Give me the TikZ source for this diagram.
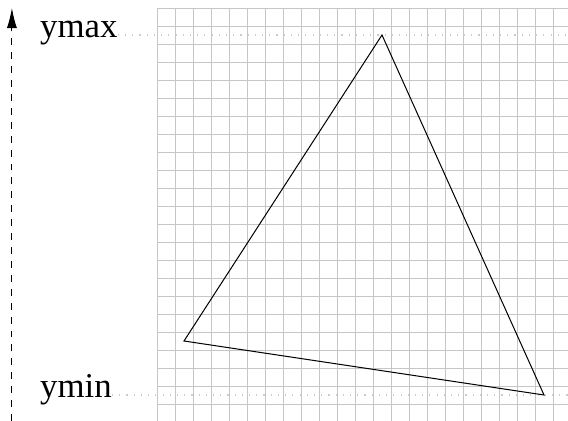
\documentclass[tikz,border=0pt]{standalone}
\usepackage{fontspec}
\setmainfont{Liberation Serif}
\usetikzlibrary{arrows.meta,positioning}

\begin{document}
\begin{tikzpicture}[x=0.5cm,y=0.5cm,
    quadrillage/.style={draw=gray!45, line width=0.7pt, step=0.5cm},
    pointille/.style={draw=gray!40, line width=0.9pt, dash pattern=on 0.9pt off 4.8pt},
    etiquette/.style={inner sep=0pt, anchor=mid west, font=\fontsize{27.5}{30}\selectfont}]
          \useasboundingbox (-8.722,0.444) rectangle (22.833,-22.944);
          \begin{scope}
            \clip (-8.722,0.444) rectangle (22.833,-22.944);
            \draw[quadrillage] (0,-23) grid (23,0);
          \end{scope}
          \node [etiquette] (ymax) at (-6.5,-1.5) {ymax};
          \node [etiquette] (ymin) at (-6.5,-21.5) {ymin};
          \coordinate (finmax) at (22.833,-1.5);
          \coordinate (finmin) at (22.833,-21.5);
          \draw[pointille] (ymax.mid east) -- (finmax);
          \draw[pointille] (ymin.mid east) -- (finmin);
          \coordinate (sommet1) at (12.5,-1.5);
          \coordinate (sommet2) at (1.5,-18.5);
          \coordinate (sommet3) at (21.5,-21.5);
          \draw[line width=0.8pt] (sommet1) -- (sommet2) -- (sommet3) -- cycle;
          \coordinate (axebas) at (-8.06,-22.944);
          \coordinate (axehaut) at (-8.06,0);
          \draw[-{Latex[length=16pt, width=8pt]}, line width=0.8pt, dash pattern=on 5.5pt off 5.5pt] (axebas) -- (axehaut);
        \end{tikzpicture}
\end{document}
